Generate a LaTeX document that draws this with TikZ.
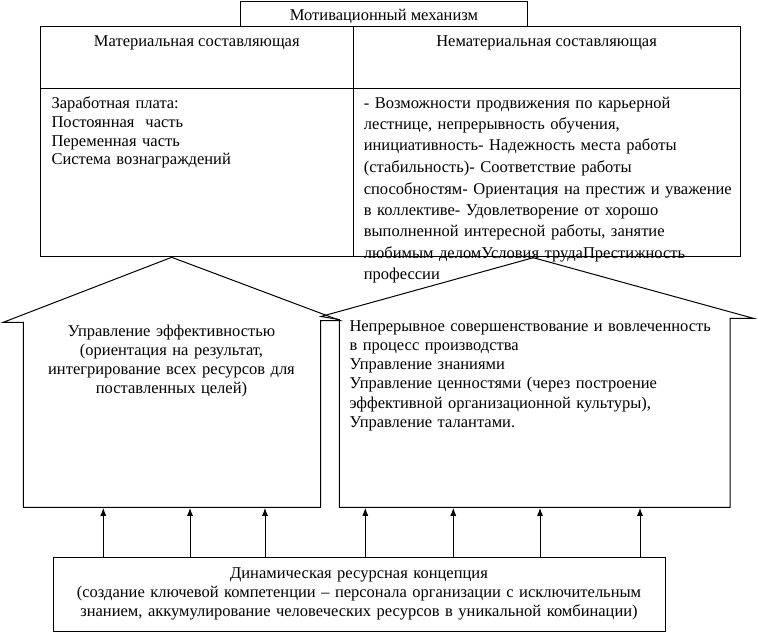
\documentclass[tikz,border=0pt]{standalone}
\usepackage{fontspec}
\setmainfont{Liberation Serif}
\usetikzlibrary{arrows.meta}
\begin{document}
\begin{tikzpicture}[x=1pt,y=-1pt,
  line width=1pt,
  txt/.style={inner sep=0pt, font=\fontsize{16.5}{19}\selectfont},
  conn/.style={-{Latex[length=8pt,width=6pt]}},
]
\useasboundingbox (0,0) rectangle (758,634);
\fill[white] (0,0) rectangle (758,634);
% top box
\draw (240.5,2) rectangle (527.7,26.7);
\node[txt, anchor=base] (mech) at (384,21) {Мотивационный механизм};
% table
\draw (40.3,26.7) rectangle (740,256.7);
\draw (353.3,26.7) -- (353.3,256.7);
\draw (40.3,88.3) -- (740,88.3);
\node[txt, anchor=base] (mathead) at (196.8,46.7) {Материальная составляющая};
\node[txt, anchor=base] (nonhead) at (546.6,46.7) {Нематериальная составляющая};
\node[txt, font=\fontsize{16.5}{18.6}\selectfont, anchor=base west, text width=290pt, align=left] (mat) at (51,109)
 {Заработная плата:\\Постоянная\ \ часть\\Переменная часть\\Система вознаграждений};
\node[txt, font=\fontsize{16.5}{21.5}\selectfont, anchor=base west, text width=390pt, align=left] (non) at (363.3,108)
 {- Возможности продвижения по карьерной\\
  лестнице, непрерывность обучения,\\
  инициативность- Надежность места работы\\
  (стабильность)- Соответствие работы\\
  способностям- Ориентация на престиж и уважение\\
  в коллективе- Удовлетворение от хорошо\\
  выполненной интересной работы, занятие\\
  любимым деломУсловия трудаПрестижность\\
  профессии};
% left arrow shape
\draw (171.7,257.3) -- (340,320.5) -- (320.7,320.5) -- (320.7,507.3)
  -- (23.3,507.3) -- (23.3,322.3) -- (3.3,322.3) -- cycle;
% right arrow shape
\draw (533.3,257.7) -- (753.3,318.3) -- (730,318.3) -- (730,507.3)
  -- (339.3,507.3) -- (339.3,319.5) -- (321,316.5) -- cycle;
\node[txt, anchor=base, text width=280pt, align=center] (eff) at (171.5,336)
 {Управление эффективностью\\(ориентация на результат,\\интегрирование всех ресурсов для\\поставленных целей)};
\node[txt, font=\fontsize{16.5}{19.3}\selectfont, anchor=base west, text width=390pt, align=left] (cont) at (349,331)
 {Непрерывное совершенствование и вовлеченность\\
  в процесс производства\\
  Управление знаниями\\
  Управление ценностями (через построение\\
  эффективной организационной культуры),\\
  Управление талантами.};
% bottom box
\draw (53.3,557.3) rectangle (665,631.7);
\node[txt, anchor=base, text width=600pt, align=center] (dyn) at (359,578)
 {Динамическая ресурсная концепция\\
  (создание ключевой компетенции – персонала организации с исключительным\\
  знанием, аккумулирование человеческих ресурсов в уникальной комбинации)};
% connectors
\foreach \i/\x in {1/103.3,2/190,3/265,4/365.3,5/453.3,6/540,7/640}{
  \coordinate (b\i) at (\x,557.3);
  \coordinate (t\i) at (\x,507.8);
  \draw[conn] (b\i) -- (t\i);
}
\end{tikzpicture}
\end{document}
